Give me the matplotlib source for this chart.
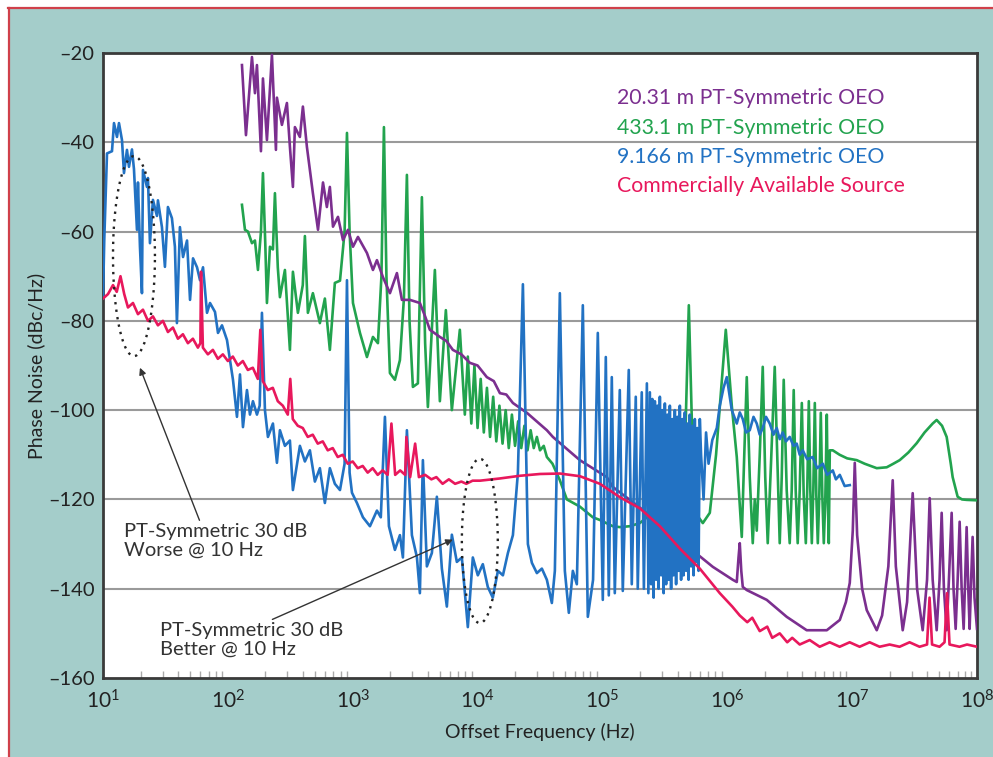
import numpy as np
import matplotlib
matplotlib.use("Agg")
import matplotlib.pyplot as plt
from matplotlib.patches import Rectangle
from matplotlib.lines import Line2D
from matplotlib.ticker import FixedLocator, NullFormatter

plt.rcParams['font.family'] = ['Lato', 'DejaVu Sans']
plt.rcParams['mathtext.default'] = 'regular'

# ---------------- data (log10 of offset frequency, dBc/Hz) ----------------
red_logf = [1.00, 1.04, 1.08, 1.11, 1.14, 1.17, 1.20, 1.24, 1.28, 1.32, 1.36, 1.40, 1.44, 1.48,
            1.52, 1.56, 1.60, 1.64, 1.68, 1.72, 1.76, 1.78, 1.785, 1.80, 1.84, 1.88, 1.92, 1.96,
            2.00, 2.04, 2.08, 2.12, 2.16, 2.20, 2.24, 2.26, 2.28, 2.32, 2.36, 2.40, 2.44, 2.48,
            2.50, 2.52, 2.56, 2.60, 2.64, 2.68, 2.72, 2.76, 2.80, 2.84, 2.88, 2.92, 2.96, 3.00,
            3.04, 3.08, 3.12, 3.16, 3.20, 3.24, 3.28, 3.31, 3.34, 3.38, 3.42, 3.43, 3.46, 3.50,
            3.53, 3.58, 3.63, 3.67, 3.72, 3.77, 3.82, 3.87, 3.91, 3.96, 4.02, 4.18, 4.34, 4.50,
            4.66, 4.82, 4.98, 5.14, 5.30, 5.46, 5.62, 5.78, 5.94, 6.04, 6.10, 6.16, 6.20, 6.26,
            6.32, 6.36, 6.42, 6.48, 6.52, 6.58, 6.66, 6.74, 6.82, 6.90, 6.98, 7.06, 7.14, 7.22,
            7.30, 7.38, 7.46, 7.54, 7.60, 7.62, 7.64, 7.70, 7.74, 7.76, 7.78, 7.86, 7.92, 8.00]
red_db = [-75, -74, -72, -73.5, -70, -74, -77, -76, -78.5, -77.5, -80, -79, -81, -80,
          -82.5, -81.5, -84, -83, -85, -84, -86, -85, -69, -86, -87.5, -86.5, -88.5, -87.5,
          -89, -88, -90, -89, -91, -90.5, -93, -82, -93.5, -95.5, -95, -98, -99, -101,
          -93, -102, -103.5, -104, -106, -105.5, -107.5, -107, -109, -108.5, -110.5, -110, -112, -111.5,
          -113, -112.5, -114, -113, -114.5, -113.5, -114.5, -103, -114.5, -113.5, -114.5, -106, -115, -107.5,
          -115, -114.5, -115.5, -115, -116.5, -115.5, -116.5, -116, -116.5, -115.8, -115.8, -115.3, -114.7, -114.3,
          -114.2, -114.8, -116.5, -119.5, -122, -126, -131, -135.5, -141, -144, -146, -147.5, -146.5, -149.5,
          -148.5, -151, -150, -152, -151, -152.5, -151.5, -153, -152, -153, -152, -153, -152, -153,
          -152.5, -153, -152, -153, -152.5, -142, -152.5, -153, -152, -141, -152.5, -153, -152.5, -153]

purple_logf = [2.113, 2.145, 2.193, 2.217, 2.233, 2.265, 2.281, 2.313, 2.353, 2.385, 2.393, 2.433,
               2.473, 2.497, 2.521, 2.537, 2.577, 2.601, 2.633, 2.681, 2.722, 2.762, 2.793, 2.817,
               2.842, 2.882, 2.922, 2.962, 3.002, 3.042, 3.114, 3.162, 3.194, 3.242, 3.298, 3.354,
               3.394, 3.458, 3.538, 3.580, 3.618, 3.698, 3.750, 3.802, 3.870, 3.938, 4.000, 4.074,
               4.130, 4.179, 4.230, 4.283, 4.395, 4.555, 4.603, 4.819, 5.035, 5.083, 5.355, 5.620,
               5.884, 6.044, 6.076, 6.090, 6.100, 6.112, 6.124, 6.156, 6.316, 6.476, 6.636, 6.797,
               6.901, 6.950, 6.981, 7.005, 7.021, 7.040, 7.080, 7.117, 7.197, 7.240, 7.290, 7.325,
               7.350, 7.405, 7.440, 7.485, 7.520, 7.565, 7.600, 7.621, 7.645, 7.677, 7.700, 7.717,
               7.735, 7.757, 7.775, 7.797, 7.812, 7.829, 7.845, 7.861, 7.877, 7.893, 7.905, 7.917,
               7.930, 7.941, 7.953, 7.965, 7.980, 8.000]
purple_db = [-22.7, -38.4, -20.9, -29, -22.7, -42, -25.7, -39.5, -20.4, -41.7, -30, -36.1,
             -31.2, -41, -50, -36.6, -38.8, -32, -41, -51.4, -59.6, -49, -54.5, -50,
             -58.9, -56.7, -61.9, -59.6, -63.4, -61.2, -64.8, -68.6, -66.4, -70.2, -73.8, -69.3,
             -75.3, -75.3, -76, -79, -82, -83.6, -84.5, -86.5, -87.5, -89.4, -90, -92.6,
             -93.5, -96.2, -96.5, -98.4, -100.6, -104.5, -106, -111.2, -115, -117.2, -123, -129.1,
             -135.1, -138, -138.5, -133, -129.8, -136, -139.6, -140.3, -142.5, -146.3, -149.3, -149.3,
             -147, -143, -138.7, -127, -111.8, -128, -140, -144.8, -149.3, -146, -135, -115.7,
             -135, -149.3, -143, -118.6, -140, -149.3, -138, -119.7, -138, -149.3, -138, -123,
             -140, -149.3, -138, -123, -140, -149, -138, -125, -140, -149, -138, -126.2,
             -140, -149, -138, -128.4, -142, -149]

green_logf = [2.113, 2.137, 2.161, 2.193, 2.217, 2.241, 2.265, 2.281, 2.300, 2.313, 2.337, 2.361,
              2.377, 2.400, 2.417, 2.457, 2.497, 2.521, 2.561, 2.600, 2.617, 2.641, 2.681, 2.737,
              2.777, 2.817, 2.857, 2.898, 2.935, 2.954, 2.975, 3.002, 3.058, 3.114, 3.162, 3.202,
              3.230, 3.250, 3.270, 3.298, 3.338, 3.378, 3.410, 3.434, 3.455, 3.482, 3.522, 3.554,
              3.580, 3.602, 3.658, 3.698, 3.746, 3.794, 3.858, 3.898, 3.922, 3.950, 3.975, 4.000,
              4.025, 4.050, 4.075, 4.100, 4.125, 4.150, 4.175, 4.200, 4.225, 4.250, 4.275, 4.300,
              4.325, 4.350, 4.375, 4.400, 4.425, 4.450, 4.475, 4.500, 4.530, 4.555, 4.600, 4.640,
              4.659, 4.715, 4.819, 4.923, 4.979, 5.083, 5.139, 5.220, 5.299, 5.403, 5.516, 5.620,
              5.660, 5.692, 5.725, 5.770, 5.804, 5.860, 5.910, 5.988, 6.036, 6.076, 6.116, 6.136,
              6.156, 6.180, 6.204, 6.220, 6.236, 6.260, 6.284, 6.304, 6.324, 6.350, 6.380, 6.405,
              6.420, 6.436, 6.452, 6.476, 6.500, 6.516, 6.532, 6.548, 6.564, 6.580, 6.597, 6.612,
              6.629, 6.641, 6.653, 6.665, 6.677, 6.689, 6.701, 6.713, 6.725, 6.737, 6.749, 6.761,
              6.773, 6.785, 6.797, 6.805, 6.813, 6.821, 6.845, 6.900, 6.960, 7.037, 7.100, 7.197,
              7.277, 7.330, 7.381, 7.450, 7.517, 7.580, 7.645, 7.677, 7.720, 7.757, 7.790, 7.805,
              7.845, 7.880, 7.917, 8.000]
green_db = [-54, -59.6, -60, -62.6, -62, -68.6, -60, -46.9, -63, -76, -63.4, -64,
            -51.4, -68, -74.7, -68.6, -86.5, -69, -78.2, -72, -61, -78.2, -73.8, -80.5,
            -75, -86.5, -71.5, -71, -60, -37.9, -60, -76, -82.7, -88.1, -83.6, -85,
            -70, -36.6, -70, -91.7, -93.2, -88.8, -75, -47.3, -80, -94.8, -94, -52.3,
            -85, -99.3, -68.6, -98, -77.6, -100, -82, -101, -88, -103, -90, -104,
            -93, -105, -95, -106, -97, -107, -99, -107.5, -100, -108.5, -101, -108,
            -102.5, -108.5, -103.5, -109, -104.5, -108.5, -106, -109, -108, -110.5, -112, -114.5,
            -115.7, -120, -121.6, -124, -124.6, -126, -126.2, -126, -125.3, -123, -121, -118.6,
            -110, -76.5, -112, -124, -125.3, -123, -110, -82, -99, -110.5, -128.4, -110,
            -92.6, -115, -129.8, -120, -127, -110, -90.3, -115, -129.8, -112, -90.3, -115,
            -129.8, -115, -93.2, -118, -129.8, -118, -95.5, -118, -129.8, -118, -98.4, -119,
            -129.8, -117, -98, -118, -129.8, -118, -98.4, -119, -129.8, -119, -100.6, -119,
            -129.8, -120, -101, -120, -129.8, -109, -109, -110, -110.8, -111.2, -112, -113,
            -112.8, -112, -111.2, -109.5, -107.4, -105, -103, -102.2, -103.5, -106, -112, -115,
            -119.4, -120, -120.1, -120.2]

blue_logf = [1.000, 1.010, 1.032, 1.072, 1.088, 1.112, 1.128, 1.152, 1.168, 1.192, 1.208, 1.232,
             1.248, 1.272, 1.280, 1.296, 1.312, 1.320, 1.352, 1.360, 1.376, 1.400, 1.432, 1.440,
             1.472, 1.496, 1.520, 1.552, 1.576, 1.592, 1.616, 1.641, 1.673, 1.697, 1.721, 1.753,
             1.777, 1.801, 1.833, 1.857, 1.897, 1.921, 1.953, 1.993, 2.017, 2.041, 2.073, 2.097,
             2.121, 2.153, 2.177, 2.201, 2.233, 2.255, 2.273, 2.297, 2.321, 2.361, 2.393, 2.417,
             2.457, 2.497, 2.521, 2.577, 2.617, 2.657, 2.697, 2.737, 2.777, 2.817, 2.857, 2.898,
             2.935, 2.954, 2.975, 2.994, 3.034, 3.082, 3.138, 3.194, 3.225, 3.258, 3.290, 3.338,
             3.378, 3.402, 3.434, 3.474, 3.514, 3.538, 3.562, 3.594, 3.634, 3.674, 3.714, 3.754,
             3.794, 3.834, 3.874, 3.922, 3.962, 4.002, 4.042, 4.082, 4.122, 4.163, 4.203, 4.243,
             4.283, 4.323, 4.363, 4.403, 4.435, 4.475, 4.515, 4.555, 4.595, 4.619, 4.659, 4.699,
             4.731, 4.763, 4.795, 4.843, 4.883, 4.925, 4.963, 5.003, 5.027, 5.051, 5.075, 5.099,
             5.139, 5.163, 5.211, 5.235, 5.267, 5.283, 5.315, 5.332, 5.356, 5.368, 5.380, 5.390,
             5.400, 5.410, 5.420, 5.430, 5.440, 5.450, 5.460, 5.470, 5.480, 5.490, 5.500, 5.510,
             5.520, 5.530, 5.540, 5.550, 5.560, 5.570, 5.580, 5.590, 5.600, 5.610, 5.620, 5.630,
             5.640, 5.650, 5.660, 5.670, 5.680, 5.690, 5.700, 5.710, 5.720, 5.730, 5.740, 5.750,
             5.760, 5.770, 5.780, 5.790, 5.810, 5.830, 5.850, 5.880, 5.916, 5.940, 5.970, 5.996,
             6.036, 6.076, 6.100, 6.124, 6.150, 6.180, 6.210, 6.236, 6.260, 6.284, 6.310, 6.340,
             6.370, 6.396, 6.420, 6.444, 6.470, 6.500, 6.530, 6.556, 6.580, 6.604, 6.640, 6.684,
             6.720, 6.765, 6.800, 6.845, 6.870, 6.901, 6.940, 6.981]
blue_db = [-75, -62, -42.5, -42, -35.7, -38.8, -35.7, -39.5, -46.9, -41.7, -45.5, -41.6,
           -46, -59.6, -49, -63.4, -73.8, -46.2, -50, -48, -62.6, -52.9, -56.5, -53,
           -59, -67.9, -54.5, -57, -63.4, -80.5, -59, -65.7, -62, -75.3, -66, -68,
           -70.9, -68, -78.2, -76, -78, -82.7, -81, -84.3, -88.8, -93.2, -101.5, -92,
           -103.8, -95.5, -101, -98, -101, -99, -78.2, -100, -106, -103, -111.8, -104.5,
           -108, -106.8, -117.9, -108, -111.5, -109, -116, -113, -120.8, -113, -116.5, -117.9,
           -112, -70.9, -114, -118.5, -120.8, -124, -126, -122.5, -124, -101.5, -126, -131.3,
           -128, -133, -104.5, -128, -132.9, -141, -111.2, -135, -132, -119.4, -135.5, -144,
           -127.9, -134, -133, -148.6, -133, -137, -134.5, -139.6, -142, -136, -137, -132,
           -128, -114, -71.8, -130, -134.2, -136.5, -135.5, -138, -143.2, -136, -73.8, -136,
           -145.4, -136, -139, -76.5, -146.3, -138, -82.7, -142.5, -88.1, -141.5, -92.6, -141,
           -95.5, -140.5, -91, -139, -97, -140, -96, -140, -94, -141, -96, -139,
           -97.5, -142, -98, -138, -99, -140, -97, -137, -100, -141, -98.5, -139,
           -101, -138, -99, -140, -102, -137, -100, -139, -101.5, -136, -99, -138,
           -102, -137, -100.5, -136, -103, -138, -101, -135, -103.5, -137, -102, -134,
           -104, -136, -102, -110, -120, -105, -112, -106.7, -104, -99, -95, -92.6,
           -100, -103, -100.5, -102, -105, -104.5, -101.5, -103, -105.5, -104, -101.5, -103,
           -105.5, -104, -106.5, -105, -107, -106, -108, -107.5, -110, -109, -111, -110.5,
           -113, -112, -114.5, -113.5, -115.5, -114.5, -117, -116.8]

series_names = ["20.31 m PT-Symmetric OEO", "433.1 m PT-Symmetric OEO",
                "9.166 m PT-Symmetric OEO", "Commercially Available Source"]
y_ticks = [-160, -140, -120, -100, -80, -60, -40, -20]
x_exponents = [1, 2, 3, 4, 5, 6, 7, 8]

c_purple = "#7b2f8f"
c_green = "#22a34e"
c_blue = "#2272c3"
c_red = "#e8185c"
teal = "#a4cdca"
border_red = "#d0404a"

# ---------------- figure ----------------
fig = plt.figure(figsize=(9.93, 7.57), dpi=100, facecolor=teal)
W, H = 993.0, 757.0
fig.patches.append(Rectangle((0, 1 - 7 / H), 1, 7 / H, transform=fig.transFigure,
                             facecolor="white", edgecolor="none", zorder=-10))
fig.patches.append(Rectangle((0, 0), 8 / W, 1, transform=fig.transFigure,
                             facecolor="white", edgecolor="none", zorder=-10))
fig.lines.append(Line2D([8 / W, 1], [1 - 8 / H, 1 - 8 / H], transform=fig.transFigure,
                        color=border_red, lw=1.6, zorder=-5))
fig.lines.append(Line2D([8.5 / W, 8.5 / W], [0, 1 - 8 / H], transform=fig.transFigure,
                        color=border_red, lw=1.6, zorder=-5))

ax = fig.add_axes([103 / W, 1 - 678 / H, (977 - 103) / W, (678 - 53) / H])
ax.set_zorder(1)
ax.set_facecolor("white")
ax.set_xscale("log")
ax.set_xlim(10 ** 1, 10 ** 8)
ax.set_ylim(-160, -20)

for yv in y_ticks[1:-1]:
    ax.axhline(yv, color="#9a9a9a", lw=1.5, zorder=1)

lw = 1.9
ax.plot(10 ** np.array(green_logf), green_db, color=c_green, lw=lw, zorder=3)
ax.plot(10 ** np.array(purple_logf), purple_db, color=c_purple, lw=lw, zorder=4)
ax.plot(10 ** np.array(blue_logf), blue_db, color=c_blue, lw=lw, zorder=5)
ax.plot(10 ** np.array(red_logf), red_db, color=c_red, lw=lw, zorder=6)

# dotted ellipses (drawn in log-frequency space)
t = np.linspace(0, 2 * np.pi, 200)
for cx, cy, wx, hy in [(1.248, -65.5, 0.168, 22.4), (4.018, -129.3, 0.144, 18.4)]:
    ax.plot(10 ** (cx + wx * np.cos(t)), cy + hy * np.sin(t), color="#222222",
            lw=1.7, ls=(0, (1, 2.2)), zorder=7)

# annotations
ann_kw = dict(fontsize=14.5, color="#333333", ha="left", va="top", linespacing=1.1)
ax.annotate("PT-Symmetric 30 dB\nWorse @ 10 Hz", xy=(10 ** 1.296, -90.5),
            xytext=(10 ** 1.165, -125.3), textcoords="data",
            arrowprops=dict(arrowstyle="-|>", color="#333333", lw=1.0,
                            shrinkA=0, shrinkB=0, mutation_scale=10,
                            relpos=(0.42, 1.0)), zorder=8, **ann_kw)
ax.annotate("PT-Symmetric 30 dB\nBetter @ 10 Hz", xy=(10 ** 3.802, -129.0),
            xytext=(10 ** 1.455, -147.5), textcoords="data",
            arrowprops=dict(arrowstyle="-|>", color="#333333", lw=1.0,
                            shrinkA=0, shrinkB=0, mutation_scale=10,
                            relpos=(0.58, 1.0)), zorder=8, **ann_kw)

# legend text
leg_colors = [c_purple, c_green, c_blue, c_red]
leg_y = [-30.0, -36.7, -43.4, -49.8]
for name, col, yy in zip(series_names, leg_colors, leg_y):
    ax.text(10 ** 5.12, yy, name, color=col, fontsize=15.3, ha="left", va="center", zorder=9)

# axes styling
ax.set_yticks(y_ticks)
ax.set_yticklabels(["\u2013" + str(abs(v)) for v in y_ticks], fontsize=14.5, color="#222222")
ax.xaxis.set_major_locator(FixedLocator([10.0 ** e for e in x_exponents]))
ax.set_xticklabels(["$10^{%d}$" % e for e in x_exponents], fontsize=15, color="#222222")
ax.xaxis.set_minor_locator(FixedLocator([m * 10.0 ** e for e in range(1, 8) for m in range(2, 10)]))
ax.xaxis.set_minor_formatter(NullFormatter())
ax.tick_params(axis="x", which="major", length=0, pad=8)
ax.tick_params(axis="x", which="minor", direction="in", length=5, width=1, color="#aaaaaa")
ax.tick_params(axis="y", which="major", length=0, pad=6)
for sp in ax.spines.values():
    sp.set_color("#3a3a3a")
    sp.set_linewidth(2)

ax.set_xlabel("Offset Frequency (Hz)", fontsize=14, color="#222222", labelpad=8)
ax.set_ylabel("Phase Noise (dBc/Hz)", fontsize=14, color="#222222", labelpad=2)

fig.savefig("out.png", dpi=100, facecolor=fig.get_facecolor())
